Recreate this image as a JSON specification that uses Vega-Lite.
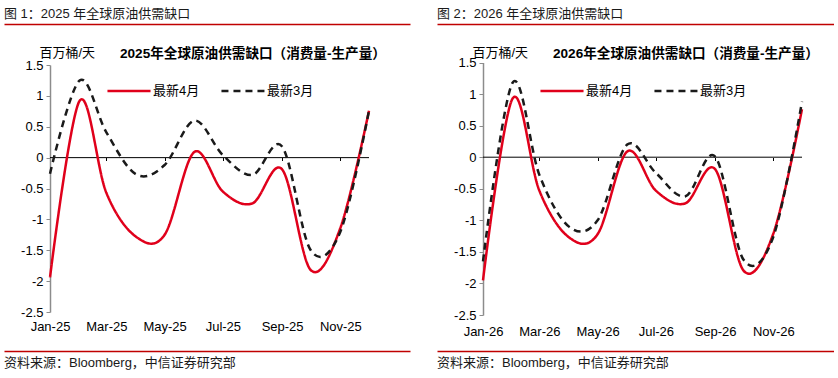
{
  "$schema": "https://vega.github.io/schema/vega-lite/v6.json",
  "padding": {"left": 4, "top": 4, "right": 0, "bottom": 0},
  "background": "white",
  "config": {
    "font": "Liberation Sans, Noto Sans CJK SC, sans-serif",
    "view": {"stroke": null},
    "axis": {"labelOverlap": false}
  },
  "datasets": {
    "y2025": [
      {"date": "2025-01-01", "series": "最新4月", "value": -1.94},
      {"date": "2025-02-01", "series": "最新4月", "value": 0.92},
      {"date": "2025-03-01", "series": "最新4月", "value": -0.57},
      {"date": "2025-04-01", "series": "最新4月", "value": -1.28},
      {"date": "2025-05-01", "series": "最新4月", "value": -1.25},
      {"date": "2025-06-01", "series": "最新4月", "value": 0.09},
      {"date": "2025-07-01", "series": "最新4月", "value": -0.55},
      {"date": "2025-08-01", "series": "最新4月", "value": -0.74},
      {"date": "2025-09-01", "series": "最新4月", "value": -0.19},
      {"date": "2025-10-01", "series": "最新4月", "value": -1.82},
      {"date": "2025-11-01", "series": "最新4月", "value": -1.14},
      {"date": "2025-12-01", "series": "最新4月", "value": 0.76},
      {"date": "2025-01-01", "series": "最新3月", "value": -0.26},
      {"date": "2025-02-01", "series": "最新3月", "value": 1.25},
      {"date": "2025-03-01", "series": "最新3月", "value": 0.41},
      {"date": "2025-04-01", "series": "最新3月", "value": -0.27},
      {"date": "2025-05-01", "series": "最新3月", "value": -0.12},
      {"date": "2025-06-01", "series": "最新3月", "value": 0.6},
      {"date": "2025-07-01", "series": "最新3月", "value": 0.04},
      {"date": "2025-08-01", "series": "最新3月", "value": -0.28},
      {"date": "2025-09-01", "series": "最新3月", "value": 0.18},
      {"date": "2025-10-01", "series": "最新3月", "value": -1.5},
      {"date": "2025-11-01", "series": "最新3月", "value": -1.2},
      {"date": "2025-12-01", "series": "最新3月", "value": 0.76}
    ],
    "y2026": [
      {"date": "2026-01-01", "series": "最新4月", "value": -1.95},
      {"date": "2026-02-01", "series": "最新4月", "value": 0.93},
      {"date": "2026-03-01", "series": "最新4月", "value": -0.53},
      {"date": "2026-04-01", "series": "最新4月", "value": -1.27},
      {"date": "2026-05-01", "series": "最新4月", "value": -1.22},
      {"date": "2026-06-01", "series": "最新4月", "value": 0.09},
      {"date": "2026-07-01", "series": "最新4月", "value": -0.53},
      {"date": "2026-08-01", "series": "最新4月", "value": -0.73},
      {"date": "2026-09-01", "series": "最新4月", "value": -0.19},
      {"date": "2026-10-01", "series": "最新4月", "value": -1.8},
      {"date": "2026-11-01", "series": "最新4月", "value": -1.21},
      {"date": "2026-12-01", "series": "最新4月", "value": 0.76},
      {"date": "2026-01-01", "series": "最新3月", "value": -1.65},
      {"date": "2026-02-01", "series": "最新3月", "value": 1.18},
      {"date": "2026-03-01", "series": "最新3月", "value": -0.28},
      {"date": "2026-04-01", "series": "最新3月", "value": -1.1},
      {"date": "2026-05-01", "series": "最新3月", "value": -1.0},
      {"date": "2026-06-01", "series": "最新3月", "value": 0.2},
      {"date": "2026-07-01", "series": "最新3月", "value": -0.25},
      {"date": "2026-08-01", "series": "最新3月", "value": -0.62},
      {"date": "2026-09-01", "series": "最新3月", "value": 0.01},
      {"date": "2026-10-01", "series": "最新3月", "value": -1.63},
      {"date": "2026-11-01", "series": "最新3月", "value": -1.26},
      {"date": "2026-12-01", "series": "最新3月", "value": 0.88}
    ]
  },
  "hconcat": [
    {
      "vconcat": [
        {
          "width": 406, "height": 20,
          "data": {"values": [{"label": "图 1：2025 年全球原油供需缺口"}]},
          "mark": {"type": "text", "align": "left", "baseline": "middle", "fontSize": 13, "color": "#1a1a1a"},
          "encoding": {
            "text": {"field": "label"},
            "x": {"datum": 0, "type": "quantitative", "scale": {"domain": [0, 1]}, "axis": {"orient": "bottom", "domainColor": "#c00000", "domainWidth": 1.5, "ticks": false, "labels": false, "grid": false, "title": null}}
          }
        },
        {
          "width": 365, "height": 246.5,
          "data": {"name": "y2025"},
          "title": {"text": "2025年全球原油供需缺口（消费量-生产量）", "anchor": "start", "frame": "group", "dx": 116, "dy": 21, "offset": 6, "fontSize": 13.6, "fontWeight": "bold", "color": "#000"},
          "layer": [
            {
              "mark": {"type": "rule", "color": "#000", "strokeWidth": 1},
              "encoding": {
                "x": {"aggregate": "min", "field": "date", "type": "temporal", "axis": {"orient": "bottom", "offset": -153, "labels": false, "domain": false, "ticks": true, "tickSize": 3, "tickColor": "#000", "tickCount": {"interval": "month", "step": 2}, "grid": false, "title": null}},
                "x2": {"aggregate": "max", "field": "date"},
                "y": {"datum": 0, "type": "quantitative", "axis": {"values": [-2.5, -2, -1.5, -1, -0.5, 0, 0.5, 1, 1.5], "offset": -46, "domainColor": "#8c8c8c", "domainWidth": 1.5, "tickColor": "#8c8c8c", "tickSize": 4, "labelFontSize": 13, "labelColor": "#000", "labelPadding": 3, "labelOverlap": false, "labelFlush": false, "grid": false, "title": "百万桶/天", "titleAngle": 0, "titleAlign": "left", "titleBaseline": "middle", "titleX": -11, "titleY": -12, "titleFontSize": 13, "titleFontWeight": "normal", "titleColor": "#000", "format": ".1~f", "labelExpr": "replace(datum.label, '\u2212', '-')"}}
              }
            },
            {
              "mark": {"type": "line", "interpolate": "cardinal", "strokeWidth": 2.5},
              "encoding": {
                "x": {"field": "date", "type": "temporal", "scale": {"type": "utc", "range": [46, 365], "nice": false}, "axis": {"orient": "bottom", "format": "%b-%y", "tickCount": {"interval": "month", "step": 2}, "domain": false, "ticks": false, "grid": false, "labelPadding": 10, "labelFontSize": 13, "labelColor": "#000", "title": null, "labelFlush": false, "labelOverlap": false}},
                "y": {"field": "value", "type": "quantitative", "scale": {"domain": [-2.5, 1.5], "range": [248, 1], "nice": false, "zero": false}, "axis": {"values": [-2.5, -2, -1.5, -1, -0.5, 0, 0.5, 1, 1.5], "offset": -46, "domainColor": "#8c8c8c", "domainWidth": 1.5, "tickColor": "#8c8c8c", "tickSize": 4, "labelFontSize": 13, "labelColor": "#000", "labelPadding": 3, "labelOverlap": false, "labelFlush": false, "grid": false, "title": "百万桶/天", "titleAngle": 0, "titleAlign": "left", "titleBaseline": "middle", "titleX": -11, "titleY": -12, "titleFontSize": 13, "titleFontWeight": "normal", "titleColor": "#000", "format": ".1~f", "labelExpr": "replace(datum.label, '\u2212', '-')"}},
                "color": {"field": "series", "type": "nominal", "scale": {"domain": ["最新4月", "最新3月"], "range": ["#e0001b", "#1a1a1a"]}, "legend": {"orient": "none", "legendX": 118, "legendY": 80, "direction": "horizontal", "title": null, "symbolType": "M-4,0H4", "symbolSize": 116, "symbolStrokeWidth": 2.5, "labelFontSize": 13, "labelColor": "#000", "labelOffset": 17, "columnPadding": 16}},
                "strokeDash": {"field": "series", "type": "nominal", "scale": {"domain": ["最新4月", "最新3月"], "range": [[1, 0], [7, 5]]}, "legend": {"orient": "none", "legendX": 118, "legendY": 80, "direction": "horizontal", "title": null, "symbolType": "M-4,0H4", "symbolSize": 116, "symbolStrokeWidth": 2.5, "labelFontSize": 13, "labelColor": "#000", "labelOffset": 17, "columnPadding": 16}}
              }
            }
          ],
          "resolve": {"axis": {"x": "independent"}}
        },
        {
          "width": 406, "height": 24,
          "data": {"values": [{"label": "资料来源：Bloomberg，中信证券研究部"}]},
          "mark": {"type": "text", "align": "left", "baseline": "middle", "fontSize": 13, "color": "#1a1a1a"},
          "encoding": {
            "text": {"field": "label"},
            "x": {"datum": 0, "type": "quantitative", "scale": {"domain": [0, 1]}, "axis": {"orient": "top", "domainColor": "#c00000", "domainWidth": 1.5, "ticks": false, "labels": false, "grid": false, "title": null}}
          }
        }
      ],
      "spacing": 40,
      "bounds": "flush"
    },
    {
      "vconcat": [
        {
          "width": 397, "height": 20,
          "data": {"values": [{"label": "图 2：2026 年全球原油供需缺口"}]},
          "mark": {"type": "text", "align": "left", "baseline": "middle", "fontSize": 13, "color": "#1a1a1a"},
          "encoding": {
            "text": {"field": "label"},
            "x": {"datum": 0, "type": "quantitative", "scale": {"domain": [0, 1]}, "axis": {"orient": "bottom", "domainColor": "#c00000", "domainWidth": 1.5, "ticks": false, "labels": false, "grid": false, "title": null}}
          }
        },
        {
          "width": 365, "height": 246.5,
          "data": {"name": "y2026"},
          "title": {"text": "2026年全球原油供需缺口（消费量-生产量）", "anchor": "start", "frame": "group", "dx": 116, "dy": 21, "offset": 6, "fontSize": 13.6, "fontWeight": "bold", "color": "#000"},
          "layer": [
            {
              "mark": {"type": "rule", "color": "#000", "strokeWidth": 1},
              "encoding": {
                "x": {"aggregate": "min", "field": "date", "type": "temporal", "axis": {"orient": "bottom", "offset": -153, "labels": false, "domain": false, "ticks": true, "tickSize": 3, "tickColor": "#000", "tickCount": {"interval": "month", "step": 2}, "grid": false, "title": null}},
                "x2": {"aggregate": "max", "field": "date"},
                "y": {"datum": 0, "type": "quantitative", "axis": {"values": [-2.5, -2, -1.5, -1, -0.5, 0, 0.5, 1, 1.5], "offset": -46, "domainColor": "#8c8c8c", "domainWidth": 1.5, "tickColor": "#8c8c8c", "tickSize": 4, "labelFontSize": 13, "labelColor": "#000", "labelPadding": 3, "labelOverlap": false, "labelFlush": false, "grid": false, "title": "百万桶/天", "titleAngle": 0, "titleAlign": "left", "titleBaseline": "middle", "titleX": -11, "titleY": -12, "titleFontSize": 13, "titleFontWeight": "normal", "titleColor": "#000", "format": ".1~f", "labelExpr": "replace(datum.label, '\u2212', '-')"}}
              }
            },
            {
              "mark": {"type": "line", "interpolate": "cardinal", "strokeWidth": 2.5},
              "encoding": {
                "x": {"field": "date", "type": "temporal", "scale": {"type": "utc", "range": [46, 365], "nice": false}, "axis": {"orient": "bottom", "format": "%b-%y", "tickCount": {"interval": "month", "step": 2}, "domain": false, "ticks": false, "grid": false, "labelPadding": 15, "labelFontSize": 13, "labelColor": "#000", "title": null, "labelFlush": false, "labelOverlap": false}},
                "y": {"field": "value", "type": "quantitative", "scale": {"domain": [-2.5, 1.5], "range": [251, -1.5], "nice": false, "zero": false}, "axis": {"values": [-2.5, -2, -1.5, -1, -0.5, 0, 0.5, 1, 1.5], "offset": -46, "domainColor": "#8c8c8c", "domainWidth": 1.5, "tickColor": "#8c8c8c", "tickSize": 4, "labelFontSize": 13, "labelColor": "#000", "labelPadding": 3, "labelOverlap": false, "labelFlush": false, "grid": false, "title": "百万桶/天", "titleAngle": 0, "titleAlign": "left", "titleBaseline": "middle", "titleX": -11, "titleY": -12, "titleFontSize": 13, "titleFontWeight": "normal", "titleColor": "#000", "format": ".1~f", "labelExpr": "replace(datum.label, '\u2212', '-')"}},
                "color": {"field": "series", "type": "nominal", "scale": {"domain": ["最新4月", "最新3月"], "range": ["#e0001b", "#1a1a1a"]}, "legend": {"orient": "none", "legendX": 118, "legendY": 80, "direction": "horizontal", "title": null, "symbolType": "M-4,0H4", "symbolSize": 116, "symbolStrokeWidth": 2.5, "labelFontSize": 13, "labelColor": "#000", "labelOffset": 17, "columnPadding": 16}},
                "strokeDash": {"field": "series", "type": "nominal", "scale": {"domain": ["最新4月", "最新3月"], "range": [[1, 0], [7, 5]]}, "legend": {"orient": "none", "legendX": 118, "legendY": 80, "direction": "horizontal", "title": null, "symbolType": "M-4,0H4", "symbolSize": 116, "symbolStrokeWidth": 2.5, "labelFontSize": 13, "labelColor": "#000", "labelOffset": 17, "columnPadding": 16}}
              }
            }
          ],
          "resolve": {"axis": {"x": "independent"}}
        },
        {
          "width": 397, "height": 24,
          "data": {"values": [{"label": "资料来源：Bloomberg，中信证券研究部"}]},
          "mark": {"type": "text", "align": "left", "baseline": "middle", "fontSize": 13, "color": "#1a1a1a"},
          "encoding": {
            "text": {"field": "label"},
            "x": {"datum": 0, "type": "quantitative", "scale": {"domain": [0, 1]}, "axis": {"orient": "top", "domainColor": "#c00000", "domainWidth": 1.5, "ticks": false, "labels": false, "grid": false, "title": null}}
          }
        }
      ],
      "spacing": 40,
      "bounds": "flush"
    }
  ],
  "spacing": 27,
  "resolve": {"scale": {"x": "independent", "y": "independent", "color": "independent", "strokeDash": "independent"}}
}
